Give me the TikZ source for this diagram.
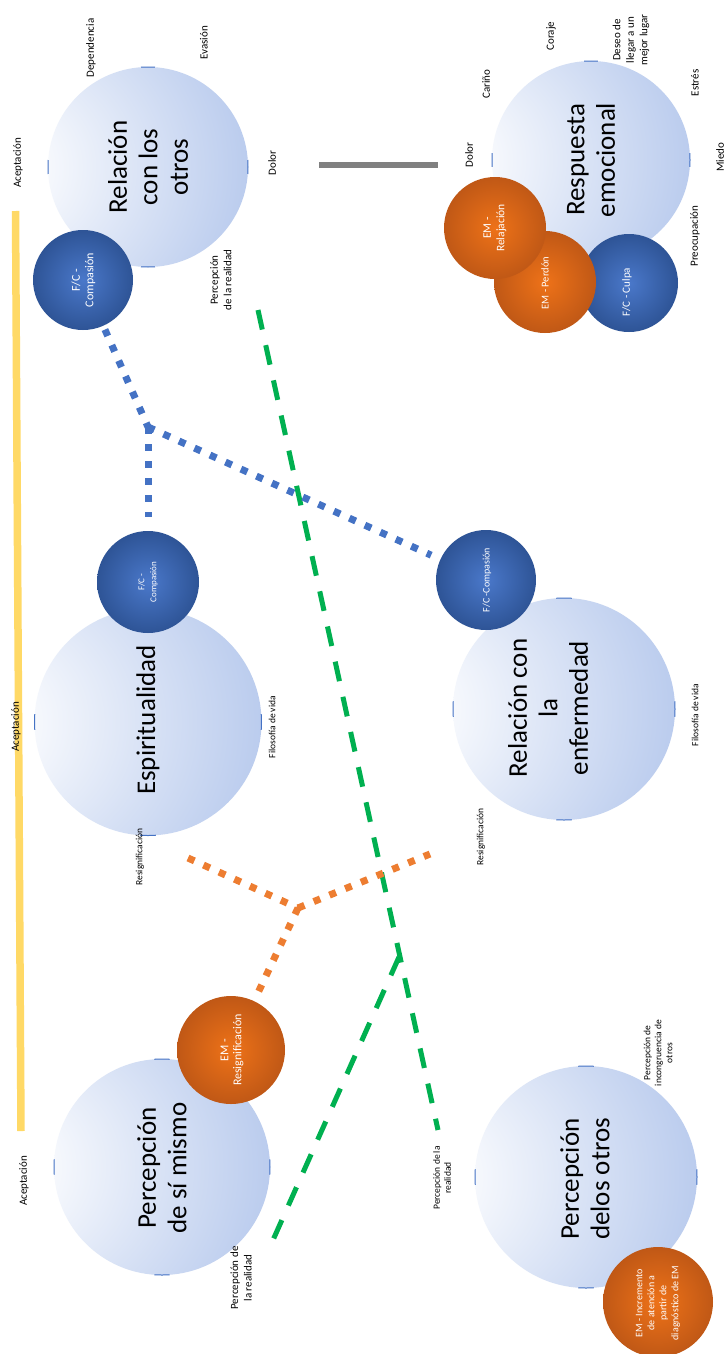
\documentclass[tikz,border=0pt]{standalone}
\usepackage{fontspec}
\setmainfont{Carlito}
\definecolor{bigblue}{RGB}{138,162,218}
\definecolor{midblue}{RGB}{180,199,236}
\definecolor{edgeblue}{RGB}{68,114,196}
\definecolor{fcin}{RGB}{74,120,202}
\definecolor{fcout}{RGB}{46,84,150}
\definecolor{emin}{RGB}{238,114,24}
\definecolor{emout}{RGB}{192,88,22}
\definecolor{dotblue}{RGB}{68,114,196}
\definecolor{dotorange}{RGB}{237,125,49}
\definecolor{dashgreen}{RGB}{0,176,80}
\definecolor{bargray}{RGB}{128,128,128}
\definecolor{baryellow}{RGB}{255,217,102}
\pgfdeclareradialshading{leftglow}{\pgfpoint{-45bp}{0bp}}{color(0bp)=(white); color(8bp)=(white); color(50bp)=(midblue); color(88bp)=(bigblue)}
\tikzset{
  bigc/.style={circle, minimum size=#1, inner sep=0pt, shade, shading=leftglow},
  fcc/.style={circle, minimum size=#1, inner sep=0pt, inner color=fcin, outer color=fcout},
  emc/.style={circle, minimum size=#1, inner sep=0pt, inner color=emin, outer color=emout},
  bigtxt/.style={rotate=90, align=center, inner sep=0pt, font=\fontsize{27}{30.5}\selectfont},
  intxt/.style={rotate=90, align=center, inner sep=0pt, text=white},
  lbl/.style={rotate=90, align=center, inner sep=0pt, font=\fontsize{11}{13.5}\selectfont},
  lblsmall/.style={rotate=90, align=center, inner sep=0pt, font=\fontsize{9.5}{11}\selectfont},
  edgetick/.style={draw=edgeblue, line width=1pt},
  bluedot/.style={draw=dotblue, line width=7pt, dash pattern=on 7pt off 10pt},
  orangedot/.style={draw=dotorange, line width=7pt, dash pattern=on 7pt off 10pt},
  greendash/.style={draw=dashgreen, line width=5pt, dash pattern=on 20pt off 16pt},
}
\newcommand{\edgeticks}[2]{%
  \foreach \a in {0,90,180,270}{\draw[edgetick] (#1) ++({\a-4}:#2pt) arc[start angle={\a-4}, end angle={\a+4}, radius=#2pt];}}
\begin{document}
\begin{tikzpicture}[x=1pt,y=-1pt]
\useasboundingbox (0,0) rectangle (727,1354);
\fill[white] (0,0) rectangle (727,1354);

% bars
\draw[baryellow, line width=7.5pt] (15.5,211) -- (21,1131);
\draw[bargray, line width=6pt] (319,164.5) -- (438,164.5);

% big circles
\node[bigc=200pt] (rel) at (148,167) {};
\node[bigc=198pt] (resp) at (591,160) {};
\node[bigc=227pt] (esp) at (148,722) {};
\node[bigc=222pt] (enf) at (564,709) {};
\node[bigc=216pt] (sim) at (162,1167) {};
\node[bigc=222pt] (otr) at (586,1177) {};
\edgeticks{rel}{100}
\edgeticks{resp}{99}
\edgeticks{esp}{113.5}
\edgeticks{enf}{111}
\edgeticks{sim}{108}
\edgeticks{otr}{111}

% small circles
\node[fcc=100pt] (fc1) at (83,280) {};
\node[fcc=102pt] (fc2) at (148,582) {};
\node[fcc=100pt] (fc3) at (486,580) {};
\node[fcc=98pt] (culpa) at (629,283) {};
\node[emc=102pt] (perdon) at (545,282) {};
\node[emc=102pt] (relaj) at (495,228) {};
\node[emc=108pt] (resig) at (231,1050) {};
\node[emc=110pt] (incr) at (658,1302) {};

% big texts
\node[bigtxt] (rel-t) at (148,167) {Relación\\con los\\otros};
\node[bigtxt] (resp-t) at (591,160) {Respuesta\\emocional};
\node[bigtxt] (esp-t) at (148,720) {Espiritualidad};
\node[bigtxt] (enf-t) at (548,708) {Relación con\\la\\enfermedad};
\node[bigtxt] (sim-t) at (162,1168) {Percepción\\de sí mismo};
\node[bigtxt] (otr-t) at (585,1179) {Percepción\\delos otros};

% inner texts
\node[intxt, font=\fontsize{12}{13.5}\selectfont] (fc1-t) at (83.5,280) {F/C -\\Compasión};
\node[intxt, font=\fontsize{9}{12}\selectfont] (fc2-t) at (148,582) {F/C -\\Compasión};
\node[intxt, font=\fontsize{10}{12}\selectfont] (fc3-t) at (487,580) {F/C -Compasión};
\node[intxt, font=\fontsize{11}{13}\selectfont] (culpa-t) at (627,292) {F/C - Culpa};
\node[intxt, font=\fontsize{10.5}{13}\selectfont] (perdon-t) at (545,283) {EM - Perdón};
\node[intxt, font=\fontsize{11.5}{13.5}\selectfont] (relaj-t) at (495,228) {EM -\\Relajación};
\node[intxt, font=\fontsize{12}{13}\selectfont] (resig-t) at (232,1050) {EM -\\Resignificación};
\node[intxt, font=\fontsize{10}{12}\selectfont] (incr-t) at (658,1303) {EM - Incremento\\de atención a\\partir de\\diagnóstico de EM};

% labels
\node[lbl] (l-dep) at (91,48) {Dependencia};
\node[lbl] (l-eva) at (204,43) {Evasión};
\node[lbl] (l-ac1) at (18,163) {Aceptación};
\node[lbl] (l-dol1) at (272,163) {Dolor};
\node[lbl] (l-per1) at (221,280) {Percepción\\de la realidad};
\node[lbl] (l-car) at (486,84) {Cariño};
\node[lbl] (l-cor) at (551,36) {Coraje};
\node[lbl] (l-des) at (631,40) {Deseo de\\llegar a un\\mejor lugar};
\node[lbl] (l-est) at (695,83) {Estrés};
\node[lbl] (l-dol2) at (469,155) {Dolor};
\node[lbl] (l-mie) at (720,157) {Miedo};
\node[lbl] (l-pre) at (695,236) {Preocupación};
\node[lblsmall] (l-fil1) at (272,727) {Filosofía de vida};
\node[lblsmall] (l-fil2) at (695,715) {Filosofía de vida};
\node[lblsmall] (l-res1) at (140,857) {Resignificación};
\node[lblsmall] (l-res2) at (481,837) {Resignificación};
\node[lbl] (l-ac2) at (16,727) {Aceptación};
\node[lbl] (l-ac3) at (24,1181) {Aceptación};
\node[lbl] (l-per2) at (241,1278) {Percepción de\\la realidad};
\node[lblsmall] (l-per3) at (442,1178) {Percepción de la\\realidad};
\node[lblsmall] (l-inc) at (658,1053) {Percepción de\\incongruencia de\\otros};

% connector coordinates
\coordinate (g1) at (258,310);
\coordinate (g2) at (438,1130);
\coordinate (gj) at (399,957);
\coordinate (g3) at (273,1240);
\coordinate (bj) at (148,427);
\coordinate (oj) at (298,908);
\coordinate (o1) at (188,858);
\coordinate (o2) at (430,854);

% green dashed
\draw[greendash] (g1) -- (g2);
\draw[greendash] (gj) -- (g3);
% blue dotted
\draw[bluedot, shorten <=4pt] (fc1) -- (bj);
\draw[bluedot, shorten >=14pt] (bj) -- (fc2);
\draw[bluedot, shorten >=10pt] (bj) -- (fc3);
% orange dotted
\draw[orangedot] (o1) -- (oj);
\draw[orangedot] (oj) -- (o2);
\draw[orangedot, shorten >=2pt] (oj) -- (resig);
\end{tikzpicture}
\end{document}
